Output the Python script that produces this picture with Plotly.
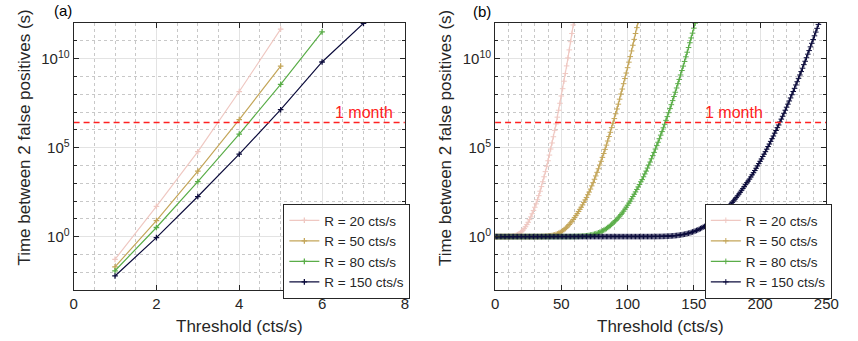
import numpy as np
import plotly.graph_objects as go

ONE_MONTH_S = 30 * 24 * 3600

series_names = ["R = 20 cts/s", "R = 50 cts/s", "R = 80 cts/s", "R = 150 cts/s"]
series_colors = ["#EFC8C2", "#C4A65A", "#5AAD48", "#0C0C3C"]

# ---------- panel (a): log10 of time between 2 false positives ----------
a_thr_20 = [1, 2, 3, 4, 5]
a_log_20 = [-1.28, 1.70, 4.77, 8.15, 11.66]
a_thr_50 = [1, 2, 3, 4, 5]
a_log_50 = [-1.70, 0.90, 3.68, 6.57, 9.58]
a_thr_80 = [1, 2, 3, 4, 5, 6]
a_log_80 = [-1.92, 0.51, 3.09, 5.76, 8.55, 11.50]
a_thr_150 = [1, 2, 3, 4, 5, 6, 7]
a_log_150 = [-2.21, -0.06, 2.25, 4.63, 7.13, 9.81, 11.98]

# ---------- panel (b): log10 of time, thresholds 0,1,2,... cts/s ----------
b_log_20 = [
    0, 0, 0, 0, 0, 0, 0, 0, 0, 0, 0,
    0.005, 0.009, 0.017, 0.030, 0.048, 0.074, 0.109, 0.153, 0.209, 0.276,
    0.356, 0.448, 0.555, 0.672, 0.804, 0.951, 1.108, 1.284, 1.469, 1.65,
    1.84, 2.07, 2.30, 2.55, 2.81, 3.08, 3.36, 3.65, 3.95, 4.26,
    4.58, 4.92, 5.26, 5.61, 5.97, 6.33, 6.71, 7.10, 7.49, 7.90,
    8.31, 8.73, 9.16, 9.59, 10.04, 10.49, 10.95, 11.41, 11.89, 12.37,
]
b_log_50 = [
    0, 0, 0, 0, 0, 0, 0, 0, 0, 0, 0, 0, 0, 0, 0, 0, 0, 0, 0, 0,
    0, 0, 0, 0, 0, 0, 0, 0, 0, 0, 0, 0, 0, 0,
    0.003, 0.005, 0.007, 0.010, 0.015, 0.020, 0.028, 0.037, 0.048, 0.062,
    0.080, 0.100, 0.125, 0.155, 0.19, 0.23, 0.28, 0.33, 0.39, 0.45,
    0.52, 0.60, 0.68, 0.77, 0.86, 0.96, 1.07, 1.18, 1.29, 1.41,
    1.53, 1.65, 1.78, 1.92, 2.06, 2.20, 2.35, 2.50, 2.67, 2.85,
    3.03, 3.22, 3.41, 3.61, 3.81, 4.02, 4.23, 4.45, 4.67, 4.90,
    5.14, 5.37, 5.62, 5.86, 6.12, 6.37, 6.63, 6.90, 7.17, 7.44,
    7.72, 8.01, 8.29, 8.59, 8.88, 9.19, 9.49, 9.80, 10.11, 10.43,
    10.75, 11.08, 11.41, 11.74, 12.08, 12.42,
]
b_log_80 = [
    0, 0, 0, 0, 0, 0, 0, 0, 0, 0, 0, 0, 0, 0, 0, 0, 0, 0, 0, 0,
    0, 0, 0, 0, 0, 0, 0, 0, 0, 0, 0, 0, 0, 0, 0, 0, 0, 0, 0, 0,
    0, 0, 0, 0, 0, 0, 0, 0, 0, 0, 0, 0, 0, 0, 0, 0,
    0.001, 0.002, 0.003, 0.004, 0.005, 0.007, 0.009, 0.012, 0.015, 0.019,
    0.024, 0.030, 0.037, 0.046, 0.056, 0.068, 0.082, 0.098, 0.117, 0.137,
    0.160, 0.185, 0.213, 0.245, 0.28, 0.32, 0.36, 0.40, 0.45, 0.51,
    0.56, 0.62, 0.69, 0.76, 0.83, 0.90, 0.98, 1.06, 1.15, 1.24,
    1.33, 1.43, 1.54, 1.65, 1.76, 1.88, 1.99, 2.12, 2.25, 2.38,
    2.51, 2.65, 2.79, 2.93, 3.08,
    3.20, 3.36, 3.52, 3.68, 3.85, 4.02, 4.19, 4.37, 4.55, 4.73,
    4.92, 5.11, 5.30, 5.50, 5.70, 5.90, 6.11, 6.31, 6.53, 6.74,
    6.96, 7.19, 7.41, 7.64, 7.87, 8.11, 8.35, 8.59, 8.83, 9.08,
    9.33, 9.58, 9.84, 10.10, 10.36, 10.62, 10.89, 11.16, 11.43, 11.71,
    11.99, 12.27,
]
b_log_150 = [
    0, 0, 0, 0, 0, 0, 0, 0, 0, 0, 0, 0, 0, 0, 0, 0, 0, 0, 0, 0,
    0, 0, 0, 0, 0, 0, 0, 0, 0, 0, 0, 0, 0, 0, 0, 0, 0, 0, 0, 0,
    0, 0, 0, 0, 0, 0, 0, 0, 0, 0, 0, 0, 0, 0, 0, 0, 0, 0, 0, 0,
    0, 0, 0, 0, 0, 0, 0, 0, 0, 0, 0, 0, 0, 0, 0, 0, 0, 0, 0, 0,
    0, 0, 0, 0, 0, 0, 0, 0, 0, 0, 0, 0, 0, 0, 0, 0, 0, 0, 0, 0,
    0, 0, 0, 0, 0, 0, 0, 0, 0, 0, 0,
    0.0003, 0.0004, 0.0005, 0.0006, 0.0008, 0.001, 0.0013, 0.0017, 0.0022, 0.003,
    0.0035, 0.0044, 0.0055, 0.0068, 0.008, 0.010, 0.012, 0.015, 0.018, 0.021,
    0.025, 0.030, 0.035, 0.041, 0.047, 0.054, 0.062, 0.072, 0.082, 0.094,
    0.107, 0.120, 0.135, 0.152, 0.171, 0.19, 0.21, 0.235, 0.26, 0.287,
    0.315, 0.345, 0.377, 0.412, 0.449, 0.49, 0.53, 0.57, 0.62, 0.66,
    0.71, 0.75, 0.80, 0.85, 0.90, 0.96, 1.01, 1.07, 1.14, 1.21,
    1.28, 1.35, 1.42, 1.50, 1.58, 1.66, 1.74, 1.83, 1.92, 2.01,
    2.10, 2.19, 2.29, 2.39, 2.49, 2.60, 2.70, 2.81, 2.92, 3.03,
    3.12, 3.23, 3.35, 3.47, 3.59, 3.71, 3.84, 3.97, 4.10, 4.23,
    4.36, 4.50, 4.63, 4.77, 4.91, 5.06, 5.20, 5.35, 5.50, 5.65,
    5.81, 5.96, 6.12, 6.27, 6.44, 6.60, 6.76, 6.93, 7.10, 7.27,
    7.44, 7.62, 7.79, 7.97, 8.15, 8.33, 8.52, 8.70, 8.89, 9.08,
    9.27, 9.46, 9.66, 9.85, 10.05, 10.25, 10.45, 10.66, 10.86, 11.07,
    11.28, 11.49, 11.70, 11.92, 12.13, 12.35,
]

a_x = [a_thr_20, a_thr_50, a_thr_80, a_thr_150]
a_y = [a_log_20, a_log_50, a_log_80, a_log_150]
b_y = [b_log_20, b_log_50, b_log_80, b_log_150]
b_x = [list(range(len(v))) for v in b_y]

FONT = "Liberation Sans, Arial, sans-serif"
TXT = "#262626"

fig = go.Figure()

for i in range(4):
    fig.add_trace(go.Scatter(
        x=a_x[i], y=np.power(10.0, a_y[i]), mode="lines+markers",
        name=series_names[i], legend="legend",
        line=dict(color=series_colors[i], width=1.2),
        marker=dict(symbol="cross-thin", size=4,
                    line=dict(color=series_colors[i], width=1.3)),
        xaxis="x", yaxis="y",
    ))
for i in range(4):
    fig.add_trace(go.Scatter(
        x=b_x[i], y=np.power(10.0, b_y[i]), mode="lines+markers",
        name=series_names[i], legend="legend2",
        line=dict(color=series_colors[i], width=1.2),
        marker=dict(symbol="cross-thin", size=4,
                    line=dict(color=series_colors[i], width=1.0)),
        xaxis="x2", yaxis="y2",
    ))

# 1 month reference lines
for xa, ya, xr in (("x", "y", [0, 8]), ("x2", "y2", [0, 250])):
    fig.add_trace(go.Scatter(
        x=xr, y=[ONE_MONTH_S, ONE_MONTH_S], mode="lines",
        line=dict(color="#FF2020", width=1.5, dash="6px,4px"),
        showlegend=False, xaxis=xa, yaxis=ya, hoverinfo="skip",
    ))

dec_vals = [10.0 ** k for k in range(-3, 13)]
major_y = [1, 1e5, 1e10]
major_y_txt = ["10<sup>0</sup>", "10<sup>5</sup>", "10<sup>10</sup>"]

common_axis = dict(
    showline=True, linecolor=TXT, linewidth=1, mirror="allticks",
    ticks="inside", ticklen=5, tickcolor=TXT, tickwidth=1,
    showgrid=True, gridcolor="#E3E3E3", gridwidth=1, zeroline=False,
    tickfont=dict(size=15, color=TXT, family=FONT),
)

ydom = [1 - 290 / 341, 1 - 23 / 341]
yax = dict(common_axis, type="log", range=[-3, 12], tickvals=major_y,
           ticktext=major_y_txt, domain=ydom,
           minor=dict(tickvals=dec_vals, showgrid=True, griddash="dot",
                      gridcolor="#C8C8C8", ticks="inside", ticklen=3,
                      tickcolor=TXT))

legend_common = dict(xanchor="left", yanchor="top", bgcolor="white",
                     bordercolor=TXT, borderwidth=1,
                     font=dict(size=13.5, family=FONT, color=TXT),
                     tracegroupgap=0, itemwidth=30)

fig.update_layout(
    width=858, height=341,
    margin=dict(l=0, r=0, t=0, b=0),
    paper_bgcolor="white", plot_bgcolor="white",
    font=dict(family=FONT, color=TXT),
    xaxis=dict(common_axis, domain=[71 / 858, 409 / 858], range=[0, 8],
               tickvals=[0, 2, 4, 6, 8],
               minor=dict(dtick=0.5, showgrid=True, griddash="dot",
                          gridcolor="#C8C8C8"),
               anchor="y"),
    yaxis=dict(yax, anchor="x"),
    xaxis2=dict(common_axis, domain=[501 / 858, 839 / 858], range=[0, 250],
                tickvals=[0, 50, 100, 150, 200, 250],
                minor=dict(dtick=10, showgrid=True, griddash="dot",
                           gridcolor="#C8C8C8"),
                anchor="y2"),
    yaxis2=dict(yax, anchor="x2"),
    legend=dict(legend_common, x=285 / 858, y=1 - 204 / 341),
    legend2=dict(legend_common, x=715 / 858, y=1 - 204 / 341),
    showlegend=True,
)


def label(text, cx, cy, size, color=TXT, angle=0, xanchor="center"):
    return dict(text=text, x=cx / 858, y=1 - cy / 341, xref="paper",
                yref="paper", showarrow=False, textangle=angle,
                xanchor=xanchor, yanchor="middle",
                font=dict(size=size, family=FONT, color=color))


ann = [
    label("Threshold (cts/s)", 240, 326, 17),
    label("Threshold (cts/s)", 670, 326, 17),
    label("Time between 2 false positives (s)", 20, 138, 17, angle=-90),
    label("Time between 2 false positives (s)", 450, 138, 17, angle=-90),
    label("(a)", 60, 11, 15, color="black"),
    label("(b)", 488, 12, 15, color="black"),
    label("1 month", 399, 113, 16, color="#FF2020", xanchor="right"),
    label("1 month", 713, 113, 16, color="#FF2020", xanchor="left"),
]
fig.update_layout(annotations=ann)

fig.write_html("out.html")
